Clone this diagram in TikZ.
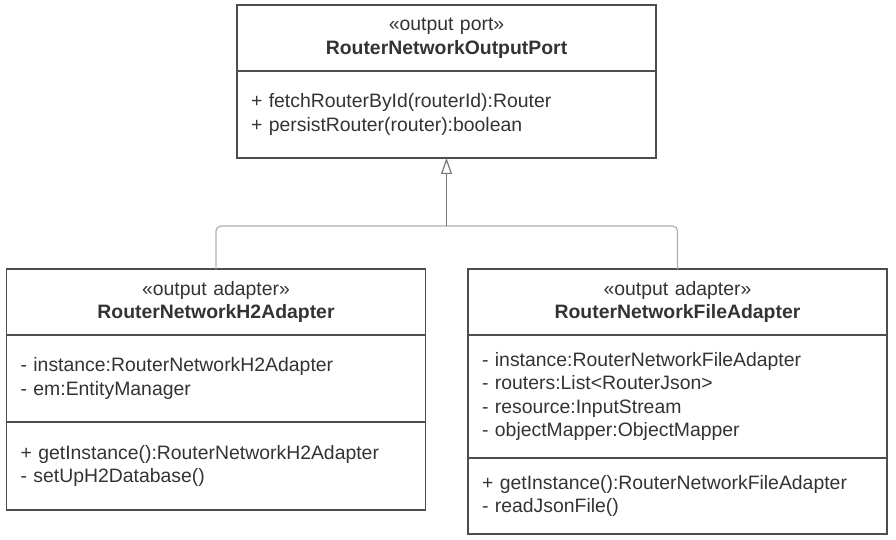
\documentclass[tikz,border=0pt]{standalone}
\usepackage{fontspec}
\setmainfont{Liberation Sans}
\usetikzlibrary{positioning,arrows.meta}

\definecolor{edge}{RGB}{77,77,77}
\definecolor{ink}{RGB}{51,51,51}
\definecolor{wire}{RGB}{175,175,175}
\definecolor{stem}{RGB}{120,120,120}

\tikzset{
  part/.style={draw=edge, line width=1.4pt, rectangle, inner xsep=14pt, inner ysep=0pt,
    outer sep=0pt, text=ink, text width=391pt, font=\fontsize{19.4}{23.5}\selectfont},
  head/.style={part, align=center, minimum height=66pt, anchor=north},
  body/.style={part, align=left},
  link/.style={draw=wire, line width=1.2pt, rounded corners=5pt},
  realize/.style={draw=stem, line width=1.2pt, -{Triangle[open, length=16pt, width=11pt]}}
}

\begin{document}
\begin{tikzpicture}[x=1pt, y=-1pt]
\useasboundingbox (0,0) rectangle (896,540);

\def\xa{446.5}
\def\xb{216}
\def\xc{677.5}

\def\ya{5}
\def\yb{269}
\def\yc{226}

\node[head] (port) at (\xa, \ya) {«output port»\\\textbf{RouterNetworkOutputPort}};
\node[body, minimum height=87pt, below=0pt of port] (portops)
  {+ fetchRouterById(routerId):Router\\+ persistRouter(router):boolean};

\node[head] (h2) at (\xb, \yb) {«output adapter»\\\textbf{RouterNetworkH2Adapter}};
\node[body, minimum height=87pt, below=0pt of h2] (h2attr)
  {- instance:RouterNetworkH2Adapter\\- em:EntityManager};
\node[body, minimum height=88pt, below=0pt of h2attr] (h2ops)
  {+ getInstance():RouterNetworkH2Adapter\\- setUpH2Database()};

\node[head] (file) at (\xc, \yb) {«output adapter»\\\textbf{RouterNetworkFileAdapter}};
\node[body, minimum height=123pt, below=0pt of file] (fileattr)
  {- instance:RouterNetworkFileAdapter\\- routers:List<RouterJson>\\- resource:InputStream\\- objectMapper:ObjectMapper};
\node[body, minimum height=76pt, below=0pt of fileattr] (fileops)
  {+ getInstance():RouterNetworkFileAdapter\\- readJsonFile()};

\coordinate (joint) at (\xa, \yc);
\draw[link] (h2.north) |- (joint);
\draw[link] (file.north) |- (joint);
\draw[realize] (joint) -- (portops.south);
\end{tikzpicture}
\end{document}
